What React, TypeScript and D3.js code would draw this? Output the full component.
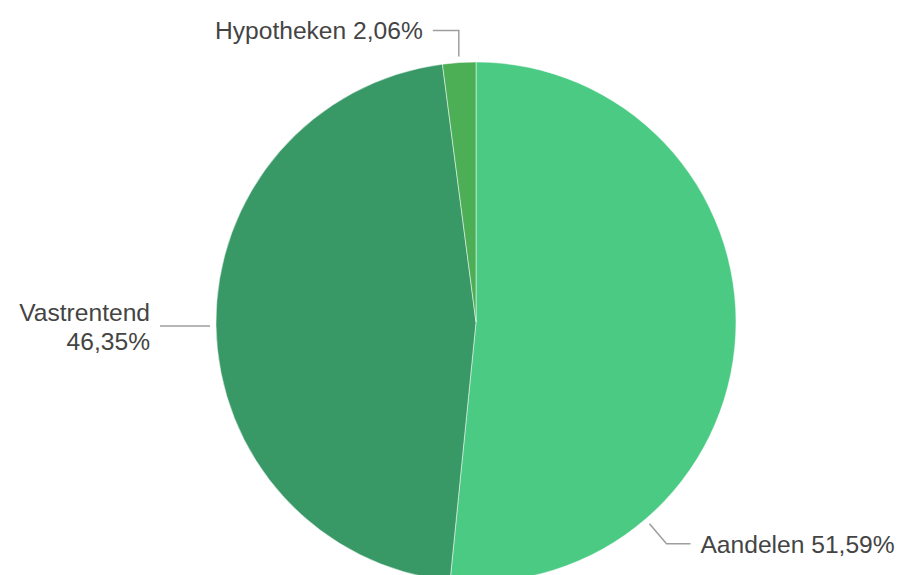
import React from 'react';
import * as d3 from 'd3';

// slice data (clockwise from 12 o'clock)
const categories = ['Aandelen', 'Vastrentend', 'Hypotheken'];
const values = [51.59, 46.35, 2.06];
const colors = ['#4bca84', '#389866', '#4caf55'];

const W = 921;
const H = 575;
const cx = 476;
const cy = 322;
const R = 260;

const fmt = (v: number) => v.toFixed(2).replace('.', ',') + '%';

const App: React.FC = () => {
  const pie = d3.pie<number>().sort(null).value(d => d);
  const arcs = pie(values);
  const arc = d3.arc<d3.PieArcDatum<number>>().innerRadius(0).outerRadius(R);

  const lineColor = '#9e9e9e';
  const textColor = '#444';
  const fontSize = 24.6;

  // point on the circle at angle a (radians, clockwise from top), radius r
  const pt = (a: number, r: number): [number, number] => [cx + r * Math.sin(a), cy - r * Math.cos(a)];

  // leader lines
  const aMid = (d: d3.PieArcDatum<number>) => (d.startAngle + d.endAngle) / 2;

  // Aandelen: label anchored lower-right in the slice
  const aA = arcs[0].startAngle + (arcs[0].endAngle - arcs[0].startAngle) * 0.75;
  const [a0x, a0y] = pt(aA, R + 6);
  const aElbowY = a0y + 20;
  const aandelenPath = d3.line()([[a0x, a0y], [a0x + 17, aElbowY], [a0x + 41, aElbowY]]);

  // Vastrentend: horizontal to the left
  const [v0x, v0y] = pt(aMid(arcs[1]), R + 6);
  const vastPath = d3.line()([[v0x, v0y], [v0x - 50, v0y]]);

  // Hypotheken: up then left
  const [h0x, h0y] = pt(aMid(arcs[2]), R + 6);
  const hypPath = d3.line()([[h0x, h0y], [h0x, 30.5], [h0x - 26, 30.5]]);

  return (
    <svg width={W} height={H} style={{ position: 'absolute', left: 0, top: 0, background: '#fff' }}
      fontFamily="'Liberation Sans', Arial, sans-serif">
      <g transform={`translate(${cx},${cy})`}>
        {arcs.map((d, i) => (
          <path key={categories[i]} d={arc(d) || ''} fill={colors[i]} stroke="#fff" strokeWidth={0.5} />
        ))}
      </g>
      <g fill="none" stroke={lineColor} strokeWidth={1.5}>
        <path d={aandelenPath || ''} />
        <path d={vastPath || ''} />
        <path d={hypPath || ''} />
      </g>
      <g fill={textColor} fontSize={fontSize}>
        <text x={a0x + 51} y={aElbowY + 9}>{`${categories[0]} ${fmt(values[0])}`}</text>
        <text x={v0x - 60} y={v0y - 5} textAnchor="end">
          <tspan x={v0x - 60}>{categories[1]}</tspan>
          <tspan x={v0x - 60} dy={29}>{fmt(values[1])}</tspan>
        </text>
        <text x={h0x - 36} y={38.5} textAnchor="end">{`${categories[2]} ${fmt(values[2])}`}</text>
      </g>
    </svg>
  );
};

export default App;
